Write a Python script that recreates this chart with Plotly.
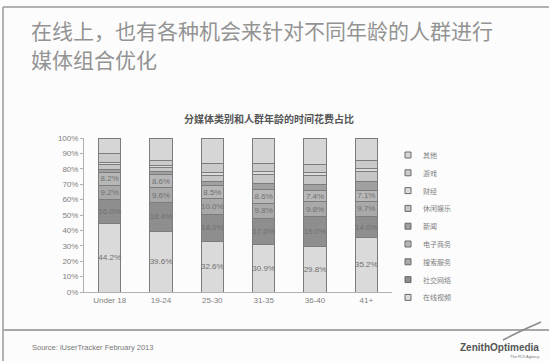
import plotly.graph_objects as go

categories = ["Under 18", "19-24", "25-30", "31-35", "36-40", "41+"]

# series values (%), bottom to top of each stack
online_video = [44.2, 39.6, 32.6, 30.9, 29.8, 35.2]
social = [16.0, 18.4, 18.0, 17.0, 19.0, 14.0]
search = [9.2, 9.6, 10.0, 9.8, 9.8, 9.7]
ecommerce = [8.2, 8.6, 8.5, 8.6, 7.4, 7.1]
news = [2.2, 2.2, 2.9, 4.2, 4.0, 5.5]
leisure = [3.0, 2.5, 3.5, 5.5, 5.5, 6.5]
finance = [1.5, 1.2, 2.0, 2.0, 2.0, 2.5]
games = [5.7, 3.5, 6.0, 5.5, 5.5, 5.0]
other = [10.0, 14.4, 16.5, 16.5, 17.0, 14.5]

series = [
    ("在线视频", online_video, "#dadada", True),
    ("社交网络", social, "#8e8e8e", True),
    ("搜索服务", search, "#a9a9a9", True),
    ("电子商务", ecommerce, "#b7b7b7", True),
    ("新闻", news, "#a0a0a0", False),
    ("休闲娱乐", leisure, "#c6c6c6", False),
    ("财经", finance, "#dcdcdc", False),
    ("游戏", games, "#cacaca", False),
    ("其他", other, "#d6d6d6", False),
]

yticks = list(range(0, 101, 10))
ytick_text = [f"{v}%" for v in yticks]

fig = go.Figure()
for name, vals, color, labelled in series:
    fig.add_trace(go.Bar(
        x=categories, y=vals, name=name,
        marker=dict(color=color, line=dict(color="#7c7c7c", width=1)),
        text=[f"{v:.1f}%" for v in vals] if labelled else None,
        textposition="inside" if labelled else "none",
        insidetextanchor="middle",
        textangle=0,
        constraintext="none",
        textfont=dict(size=8, color="#707070", family="Liberation Sans"),
        hoverinfo="skip",
        showlegend=False,
    ))

L, R, T, B = 84, 392, 138, 292
W, H = 549, 361


def px(x):
    return (x - L) / (R - L)


def py(y):
    return (B - y) / (B - T)


shapes = [
    # slide frame
    dict(type="line", xref="paper", yref="paper", x0=px(3), x1=px(549), y0=py(7), y1=py(7),
         line=dict(color="#9a9a9a", width=1.5)),
    dict(type="line", xref="paper", yref="paper", x0=px(3), x1=px(3), y0=py(7), y1=py(361),
         line=dict(color="#9a9a9a", width=1.5)),
    dict(type="line", xref="paper", yref="paper", x0=px(3), x1=px(549), y0=py(330), y1=py(330),
         line=dict(color="#a8a8a8", width=2)),
    # logo swoosh
    dict(type="path", xref="paper", yref="paper",
         path=f"M {px(503)},{py(340)} Q {px(522)},{py(330)} {px(541)},{py(322)}",
         line=dict(color="#8a8a8a", width=1.5)),
]

annotations = [
    dict(text="在线上，也有各种机会来针对不同年龄的人群进行", xref="paper", yref="paper",
         x=px(29), y=py(30), xanchor="left", yanchor="middle", showarrow=False,
         font=dict(size=21, color="#939393", family="Noto Sans CJK SC")),
    dict(text="媒体组合优化", xref="paper", yref="paper",
         x=px(29), y=py(58.5), xanchor="left", yanchor="middle", showarrow=False,
         font=dict(size=21, color="#939393", family="Noto Sans CJK SC")),
    dict(text="<b>分媒体类别和人群年龄的时间花费占比</b>", xref="paper", yref="paper",
         x=px(269), y=py(118), xanchor="center", yanchor="middle", showarrow=False,
         font=dict(size=10, color="#555555", family="Noto Sans CJK SC")),
    dict(text="Source: iUserTracker February 2013", xref="paper", yref="paper",
         x=px(30), y=py(347), xanchor="left", yanchor="middle", showarrow=False,
         font=dict(size=7.5, color="#777777", family="Liberation Sans")),
    dict(text="<b>ZenithOptimedia</b>", xref="paper", yref="paper",
         x=px(541), y=py(347), xanchor="right", yanchor="middle", showarrow=False,
         font=dict(size=10, color="#555555", family="Liberation Sans")),
    dict(text="The ROI Agency", xref="paper", yref="paper",
         x=px(541), y=py(356), xanchor="right", yanchor="middle", showarrow=False,
         font=dict(size=4, color="#777777", family="Liberation Sans")),
]

# legend (top to bottom: reversed stacking order)
legend_items = list(reversed(series))
for i, (name, _vals, color, _lab) in enumerate(legend_items):
    yc = 155 + i * 17.8
    shapes.append(dict(type="rect", xref="paper", yref="paper",
                       x0=px(405), x1=px(411), y0=py(yc + 3), y1=py(yc - 3),
                       fillcolor=color, line=dict(color="#6a6a6a", width=1)))
    annotations.append(dict(text=name, xref="paper", yref="paper",
                            x=px(421), y=py(yc), xanchor="left", yanchor="middle",
                            showarrow=False,
                            font=dict(size=7, color="#808080", family="Noto Sans CJK SC")))

fig.update_layout(
    width=W, height=H,
    margin=dict(l=L, r=W - R, t=T, b=H - B, pad=0),
    barmode="stack",
    bargap=0.57,
    paper_bgcolor="#fcfcfc",
    plot_bgcolor="#fcfcfc",
    font=dict(family="Liberation Sans", color="#808080"),
    showlegend=False,
    xaxis=dict(
        showline=True, linecolor="#b0b0b0", linewidth=1,
        ticks="", tickfont=dict(size=8, color="#808080"),
        showgrid=False, zeroline=False,
    ),
    yaxis=dict(
        range=[0, 100], tickvals=yticks, ticktext=ytick_text,
        showline=True, linecolor="#b0b0b0", linewidth=1,
        ticks="outside", ticklen=3, tickcolor="#b0b0b0",
        tickfont=dict(size=8, color="#808080"),
        showgrid=False, zeroline=False,
    ),
    shapes=shapes,
    annotations=annotations,
)

fig.write_html("out.html")
